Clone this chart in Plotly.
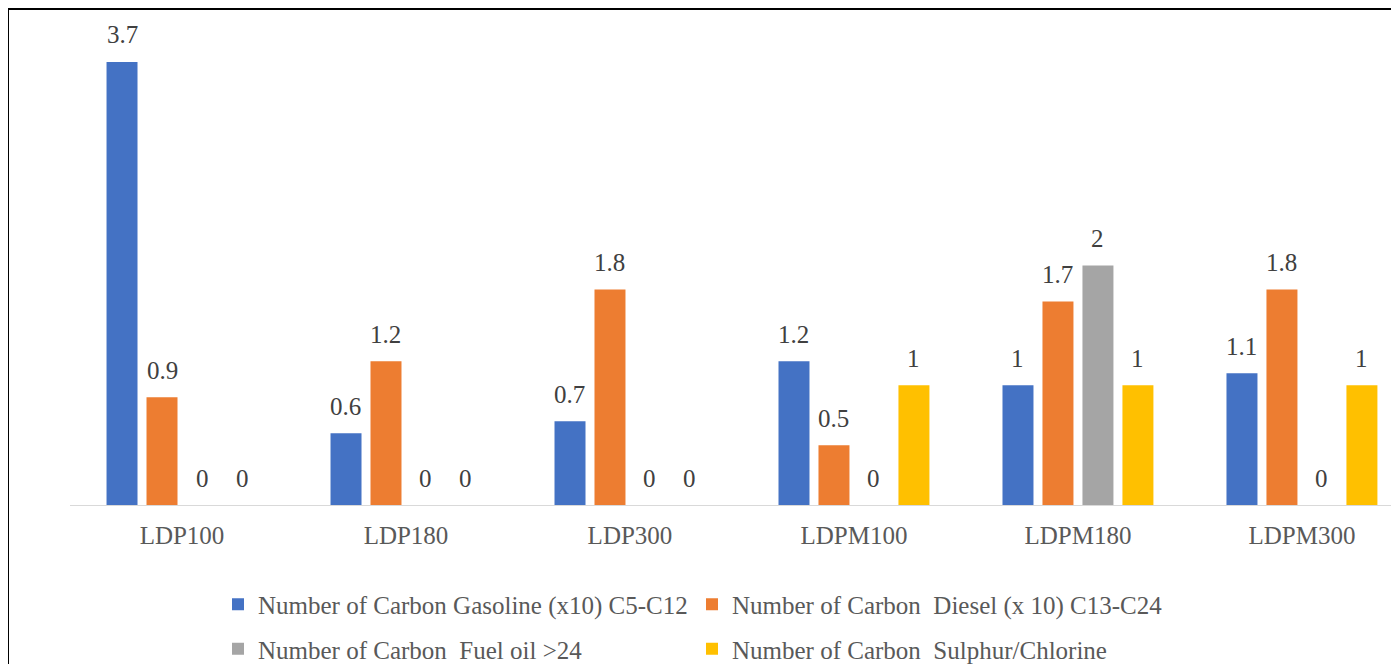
import plotly.graph_objects as go

categories = ["LDP100", "LDP180", "LDP300", "LDPM100", "LDPM180", "LDPM300"]
gasoline = [3.7, 0.6, 0.7, 1.2, 1.0, 1.1]
diesel = [0.9, 1.2, 1.8, 0.5, 1.7, 1.8]
fuel_oil = [0, 0, 0, 0, 2, 0]
sulphur = [0, 0, 0, 1, 1, 1]

names = [
    "Number of Carbon Gasoline (x10) C5-C12",
    "Number of Carbon  Diesel (x 10) C13-C24",
    "Number of Carbon  Fuel oil >24",
    "Number of Carbon  Sulphur/Chlorine",
]
colors = ["#4472C4", "#ED7D31", "#A5A5A5", "#FFC000"]
series = [gasoline, diesel, fuel_oil, sulphur]
legends = ["legend", "legend", "legend2", "legend2"]

# page body has an 8px margin; figure coords = screen coords - 8
W, H = 1399, 664
ML, MT, MB = 62, 18, 165
plot_w = W - ML
plot_h = H - MT - MB

def px_x(p):
    return (p - ML) / plot_w

def px_y(p):
    return (H - MB - p) / plot_h

FONT = "Liberation Serif, Times New Roman, serif"
FS = 25

fig = go.Figure()
for name, col, vals, lg in zip(names, colors, series, legends):
    fig.add_trace(go.Bar(
        x=categories, y=vals, name=name, marker_color=col,
        marker_line_width=0, legend=lg,
    ))

slot = 40
for i, vals in enumerate(series):
    for cat, v in zip(categories, vals):
        fig.add_annotation(
            x=cat, y=v, xref="x", yref="y", text=f"{v:g}",
            showarrow=False, yanchor="middle", yshift=27,
            xshift=(i - 1.5) * slot,
            font=dict(family=FONT, size=FS, color="#404040"),
        )

fig.update_layout(
    width=W, height=H,
    margin=dict(l=ML, r=0, t=MT, b=MB),
    paper_bgcolor="white", plot_bgcolor="white",
    barmode="group", bargap=0.286, bargroupgap=0.225,
    font=dict(family=FONT, size=FS, color="#595959"),
    xaxis=dict(type="category", range=[-0.5, 5.469], showgrid=False,
               showline=True, linecolor="#D9D9D9", linewidth=1,
               ticks="outside", ticklen=8, tickcolor="rgba(0,0,0,0)",
               tickfont=dict(family=FONT, size=FS, color="#595959")),
    yaxis=dict(range=[0, 4.0], visible=False, showgrid=False, zeroline=False),
    legend=dict(orientation="h", x=px_x(210), xanchor="left",
                y=px_y(599), yanchor="middle", entrywidth=429,
                entrywidthmode="pixels", bgcolor="rgba(0,0,0,0)",
                font=dict(family=FONT, size=FS, color="#595959")),
    legend2=dict(orientation="h", x=px_x(210), xanchor="left",
                 y=px_y(644), yanchor="middle", entrywidth=429,
                 entrywidthmode="pixels", bgcolor="rgba(0,0,0,0)",
                 font=dict(family=FONT, size=FS, color="#595959")),
    showlegend=True,
)

fig.add_shape(type="rect", xref="paper", yref="paper",
              x0=px_x(0), x1=px_x(1420), y0=px_y(1), y1=px_y(700),
              line=dict(color="black", width=2), fillcolor="rgba(0,0,0,0)")

fig.write_html("out.html")
